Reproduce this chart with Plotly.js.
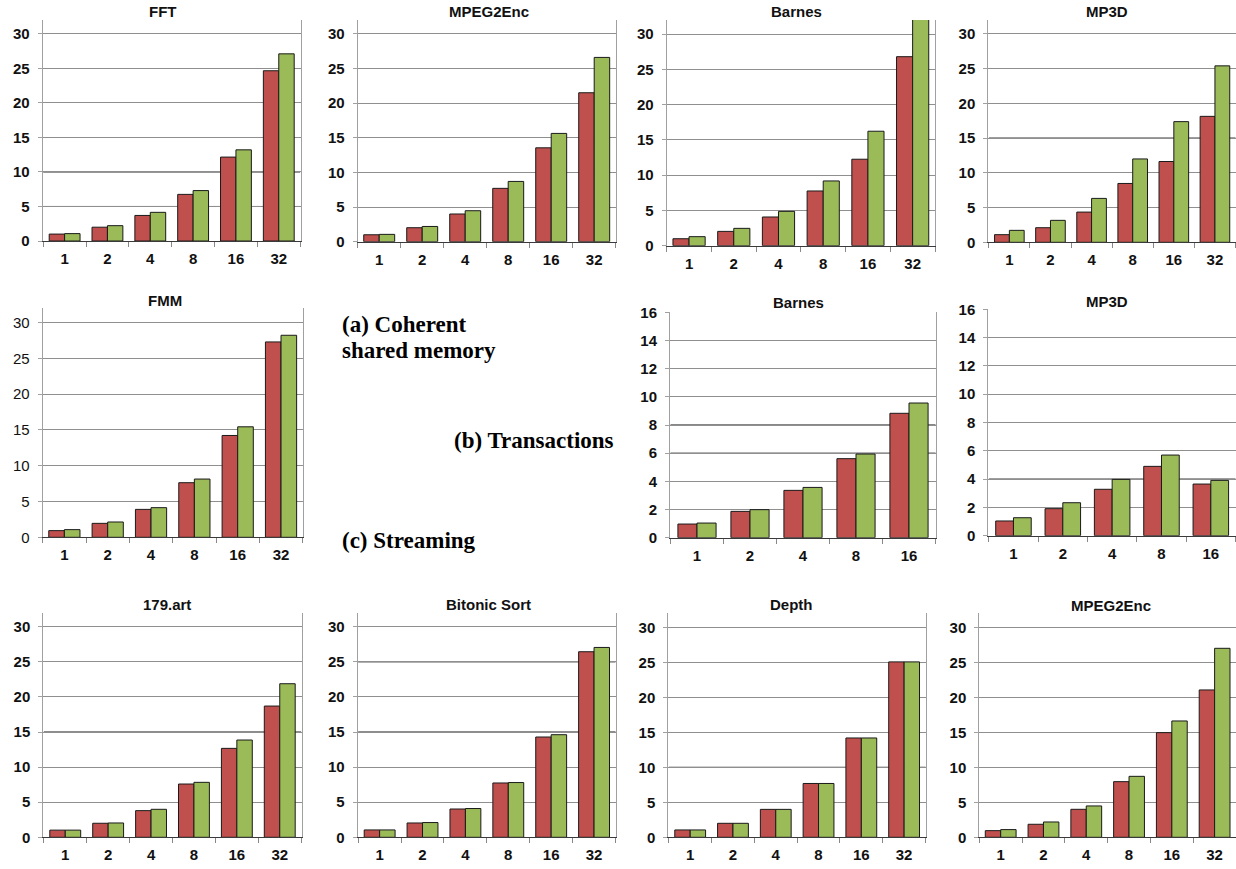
<!DOCTYPE html>
<html>
<head>
<meta charset="utf-8">
<script src="https://cdn.plot.ly/plotly-3.0.1.min.js"></script>
<style>html,body{margin:0;padding:0;background:#fff;}#chart{width:1236px;height:869px;}</style>
</head>
<body>
<div id="chart"></div>
<script>
// ---------- data ----------
const cores6 = ['1', '2', '4', '8', '16', '32'];
const cores5 = ['1', '2', '4', '8', '16'];

// (a) Coherent shared memory
const fftRed      = [1.0, 2.0, 3.7, 6.75, 12.15, 24.65];
const fftGreen    = [1.07, 2.22, 4.15, 7.3, 13.2, 27.1];
const mpegRed     = [1.0, 2.02, 4.0, 7.7, 13.55, 21.5];
const mpegGreen   = [1.06, 2.2, 4.47, 8.7, 15.63, 26.6];
const barnesRed   = [0.99, 2.03, 4.07, 7.76, 12.26, 26.8];
const barnesGreen = [1.28, 2.46, 4.87, 9.18, 16.23, 33.0];
const mp3dRed     = [1.1, 2.1, 4.35, 8.47, 11.63, 18.13];
const mp3dGreen   = [1.72, 3.16, 6.32, 12.0, 17.37, 25.4];
const fmmRed      = [0.93, 1.95, 3.9, 7.63, 14.23, 27.3];
const fmmGreen    = [1.07, 2.14, 4.14, 8.14, 15.44, 28.23];
// (b) Transactions
const barnesTxRed   = [0.97, 1.87, 3.36, 5.61, 8.83];
const barnesTxGreen = [1.04, 1.99, 3.57, 5.94, 9.56];
const mp3dTxRed     = [1.04, 1.91, 3.28, 4.9, 3.65];
const mp3dTxGreen   = [1.27, 2.33, 3.98, 5.7, 3.91];
// (c) Streaming
const artRed       = [1.02, 2.0, 3.8, 7.59, 12.67, 18.7];
const artGreen     = [1.02, 2.04, 3.99, 7.83, 13.86, 21.88];
const bitonicRed   = [1.05, 2.04, 4.03, 7.74, 14.29, 26.44];
const bitonicGreen = [1.05, 2.1, 4.1, 7.8, 14.62, 27.05];
const depthRed     = [1.05, 2.0, 3.99, 7.69, 14.19, 25.06];
const depthGreen   = [1.05, 2.0, 3.99, 7.69, 14.19, 25.06];
const mpegStRed    = [0.95, 1.86, 4.0, 7.95, 14.95, 21.05];
const mpegStGreen  = [1.1, 2.19, 4.48, 8.71, 16.62, 27.0];

const panelTitles = ['FFT', 'MPEG2Enc', 'Barnes', 'MP3D', 'FMM', 'Barnes', 'MP3D',
                     '179.art', 'Bitonic Sort', 'Depth', 'MPEG2Enc'];
const panelCats  = [cores6, cores6, cores6, cores6, cores6, cores5, cores5, cores6, cores6, cores6, cores6];
const panelRed   = [fftRed, mpegRed, barnesRed, mp3dRed, fmmRed, barnesTxRed, mp3dTxRed, artRed, bitonicRed, depthRed, mpegStRed];
const panelGreen = [fftGreen, mpegGreen, barnesGreen, mp3dGreen, fmmGreen, barnesTxGreen, mp3dTxGreen, artGreen, bitonicGreen, depthGreen, mpegStGreen];
const panelYMax  = [32, 32, 32, 32, 32, 16, 16, 32, 32, 32, 32];
const panelDtick = [5, 5, 5, 5, 5, 2, 2, 5, 5, 5, 5];
// scanned grid lines that look darker
const panelDarkGrid = [[10, 5], [], [], [15], [], [8, 6], [4], [15], [25, 15], [10], []];

const sectionLabels = ['(a) Coherent', 'shared memory', '(b) Transactions', '(c) Streaming'];

// ---------- layout geometry (pixels) ----------
const W = 1236, H = 869;
// [left, right, top, bottom]
const boxes = [
  [42.7, 300.7, 20, 241], [357.7, 615.7, 20, 241.7], [666.7, 935, 20, 245.7], [988.3, 1236, 20, 242.3],
  [42.7, 302.7, 308.3, 537.3], [670, 936, 312.3, 537.7], [988.3, 1236, 309.3, 535.7],
  [43.3, 301.7, 612.7, 837.3], [357.7, 616, 612.7, 837.3], [668.3, 926, 613.3, 837.3], [979.3, 1236, 613.3, 837.3]
];
const titlePos = [[162.5, 11.5], [489, 11.5], [796.5, 11.5], [1107, 11.5],
                  [164.7, 300], [798.3, 303], [1107, 301.5],
                  [166.7, 604], [488.3, 604], [791, 604.5], [1110.5, 605]];
const regularYTicks = [false, false, false, false, true, false, false, false, false, false, false];
// [x_left, y_center] of the section labels
const sectionPos = [[340, 324], [340, 350], [452, 440], [340, 540]];

const RED = '#C0504D', GREEN = '#9BBB59';
const FONT = 'Liberation Sans, Arial, sans-serif';

const traces = [];
const layout = {
  width: W, height: H,
  margin: {l: 0, r: 0, t: 0, b: 0},
  paper_bgcolor: '#ffffff', plot_bgcolor: '#ffffff',
  showlegend: false,
  barmode: 'group', bargap: 0.28, bargroupgap: 0,
  annotations: [], shapes: []
};

panelTitles.forEach((title, i) => {
  const n = i + 1;
  const xa = n === 1 ? 'x' : 'x' + n;
  const ya = n === 1 ? 'y' : 'y' + n;
  const [l, r, t, b] = boxes[i];
  traces.push({
    type: 'bar', x: panelCats[i], y: panelRed[i], xaxis: xa, yaxis: ya,
    marker: {color: RED, line: {color: '#1a1a1a', width: 1}}, hoverinfo: 'skip'
  });
  traces.push({
    type: 'bar', x: panelCats[i], y: panelGreen[i], xaxis: xa, yaxis: ya,
    marker: {color: GREEN, line: {color: '#1a1a1a', width: 1}}, hoverinfo: 'skip'
  });
  const xKey = n === 1 ? 'xaxis' : 'xaxis' + n;
  const yKey = n === 1 ? 'yaxis' : 'yaxis' + n;
  layout[xKey] = {
    domain: [l / W, r / W], anchor: ya, type: 'category',
    showgrid: false, zeroline: false,
    showline: true, linecolor: '#3a3a3a', linewidth: 1,
    ticks: 'outside', tickson: 'boundaries', ticklen: 5, tickcolor: '#888',
    tickfont: {family: FONT, size: 15, color: '#111', weight: 'bold'},
    ticklabelstandoff: 4, fixedrange: true
  };
  layout[yKey] = {
    domain: [1 - b / H, 1 - t / H], anchor: xa,
    range: [0, panelYMax[i]], dtick: panelDtick[i], tick0: 0,
    showgrid: true, gridcolor: '#8f8f8f', gridwidth: 1, zeroline: false,
    showline: true, mirror: true, linecolor: '#a0a0a0', linewidth: 1,
    ticks: 'outside', ticklen: 4, tickcolor: '#a0a0a0',
    tickfont: {family: FONT, size: 15, color: '#111', weight: regularYTicks[i] ? 'normal' : 'bold'},
    ticklabelstandoff: 5, fixedrange: true
  };
  layout.annotations.push({
    text: title, xref: 'paper', yref: 'paper',
    x: titlePos[i][0] / W, y: 1 - titlePos[i][1] / H,
    xanchor: 'center', yanchor: 'middle', showarrow: false,
    font: {family: FONT, size: 15, color: '#111', weight: 'bold'}
  });
  panelDarkGrid[i].forEach(v => {
    layout.shapes.push({
      type: 'line', xref: xa, yref: ya, x0: -0.5, x1: panelCats[i].length - 0.5, y0: v, y1: v,
      line: {color: '#111', width: 1}, layer: 'below'
    });
  });
});

// section labels
const secFont = {family: 'Liberation Serif, Times New Roman, serif', size: 23, color: '#000', weight: 'bold'};
sectionLabels.forEach((txt, k) => {
  layout.annotations.push({text: txt, xref: 'paper', yref: 'paper',
    x: sectionPos[k][0] / W, y: 1 - sectionPos[k][1] / H,
    xanchor: 'left', yanchor: 'middle', align: 'left', showarrow: false, font: secFont});
});

Plotly.newPlot('chart', traces, layout, {displayModeBar: false, staticPlot: true});
</script>
</body>
</html>
